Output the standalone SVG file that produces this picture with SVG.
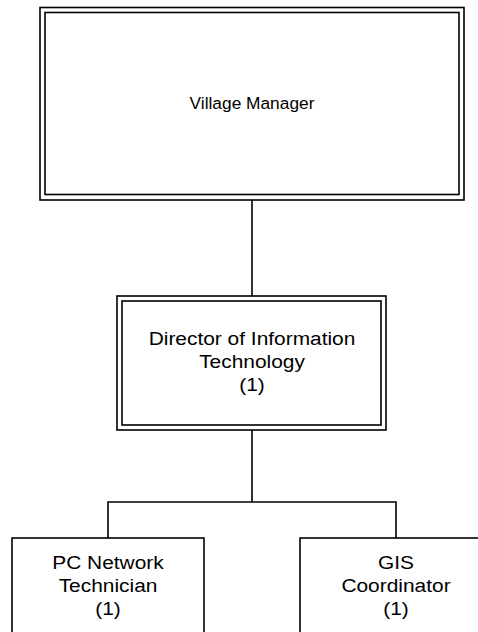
<svg xmlns="http://www.w3.org/2000/svg" width="478" height="632" viewBox="0 0 478 632">
  <style>
    .box { fill: #ffffff; stroke: #000000; stroke-width: 1.6; }
    .inner { fill: none; stroke: #000000; stroke-width: 1.6; }
    .wire { fill: none; stroke: #000000; stroke-width: 1.6; }
    text { font-family: "Liberation Sans", Arial, sans-serif; fill: #000000; text-anchor: middle; }
    .title { font-size: 16.5px; }
    .label { font-size: 19px; }
  </style>
  <rect width="478" height="632" fill="#ffffff"/>

  <!-- reporting lines -->
  <g id="connectors">
    <path class="wire" d="M252 200 V296"/>
    <path class="wire" d="M252 430 V502"/>
    <path class="wire" d="M108 538 V502 H396 V538"/>
  </g>

  <g id="village-manager">
    <rect class="box" x="40" y="7.5" width="424" height="192.5"/>
    <rect class="inner" x="45" y="12.5" width="414" height="182"/>
    <g transform="translate(252 0) scale(1.05 1)">
      <text class="title" x="0" y="109">Village Manager</text>
    </g>
  </g>

  <g id="director-it">
    <rect class="box" x="117" y="296" width="269" height="134"/>
    <rect class="inner" x="122" y="301" width="259" height="124"/>
    <g transform="translate(252 0) scale(1.1 1)">
      <text class="label" x="0" y="345">Director of Information</text>
      <text class="label" x="0" y="368">Technology</text>
      <text class="label" x="0" y="391">(1)</text>
    </g>
  </g>

  <g id="pc-network-technician">
    <rect class="box" x="12" y="538" width="192" height="100"/>
    <g transform="translate(108 0) scale(1.1 1)">
      <text class="label" x="0" y="569">PC Network</text>
      <text class="label" x="0" y="592">Technician</text>
      <text class="label" x="0" y="615">(1)</text>
    </g>
  </g>

  <g id="gis-coordinator">
    <rect class="box" x="300" y="538" width="192" height="100"/>
    <g transform="translate(396 0) scale(1.1 1)">
      <text class="label" x="0" y="569">GIS</text>
      <text class="label" x="0" y="592">Coordinator</text>
      <text class="label" x="0" y="615">(1)</text>
    </g>
  </g>
</svg>
